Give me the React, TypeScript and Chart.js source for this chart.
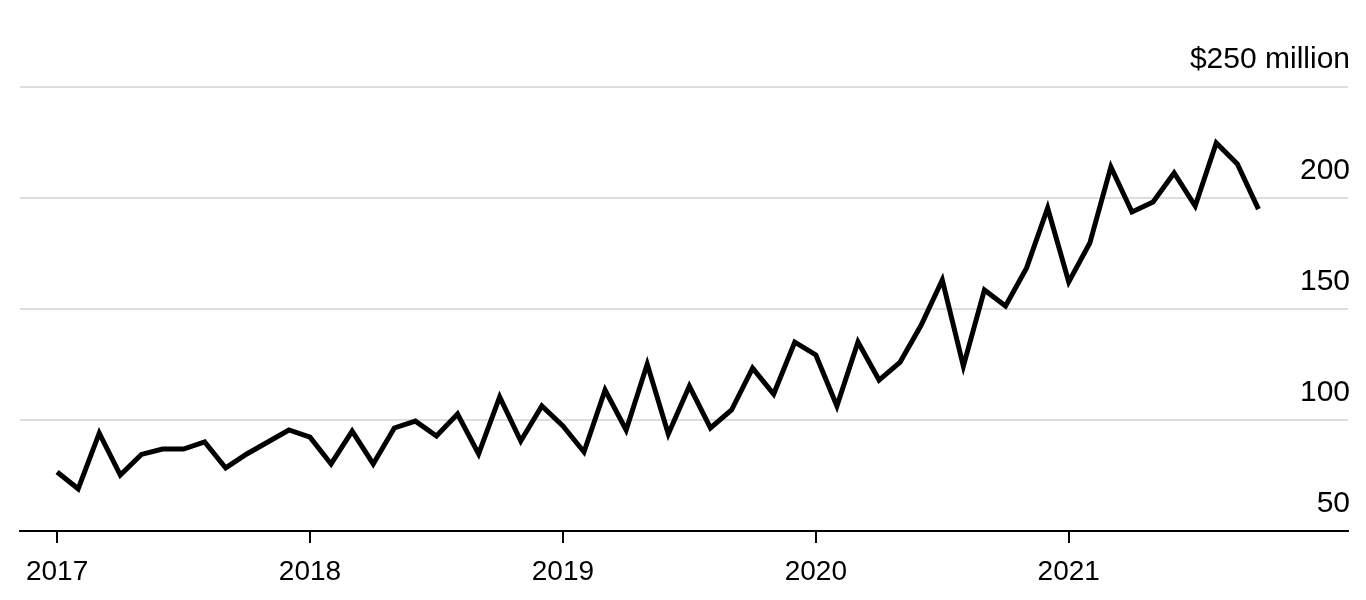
import React, { useEffect, useRef } from "react";
import { Chart, registerables } from "chart.js";

Chart.register(...registerables);

// Monthly values, Jan 2017 – Oct 2021 ($ million)
const values: number[] = [
  76.6, 69.0, 94.1, 75.2, 84.5, 86.9, 86.9, 90.1, 78.4, 84.7, 90.1, 95.5,
  92.3, 80.2, 95.0, 80.2, 96.4, 99.5, 92.8, 102.7, 84.7, 110.4, 90.5, 106.3,
  97.3, 85.6, 113.5, 95.5, 125.2, 93.7, 115.3, 96.4, 104.5, 123.4, 111.7, 135.1,
  129.3, 106.3, 135.1, 118.0, 126.1, 142.8, 163.1, 124.3, 158.6, 151.4, 168.5, 195.5,
  162.2, 179.7, 214.0, 193.7, 198.2, 211.3, 196.4, 224.8, 215.3, 195.0,
];

const yearTickIndex: number[] = [0, 12, 24, 36, 48];
const yearLabels: string[] = ["2017", "2018", "2019", "2020", "2021"];
const yTicks: number[] = [50, 100, 150, 200, 250];
const yTopLabel = "$250 million";

const FONT = "'Liberation Sans', Arial, Helvetica, sans-serif";

export default function App() {
  const canvasRef = useRef<HTMLCanvasElement | null>(null);

  useEffect(() => {
    const canvas = canvasRef.current;
    if (!canvas) return;
    const chart = new Chart(canvas, {
      type: "line",
      data: {
        datasets: [
          {
            data: values.map((v, i) => ({ x: i, y: v })),
            borderColor: "#000",
            borderWidth: 5,
            pointRadius: 0,
            tension: 0,
            fill: false,
          },
        ],
      },
      options: {
        animation: false,
        responsive: true,
        maintainAspectRatio: false,
        layout: { padding: { left: 12, right: 10, top: 79, bottom: 0 } },
        plugins: { legend: { display: false }, tooltip: { enabled: false } },
        scales: {
          x: {
            type: "linear",
            min: -1.76,
            max: 61.25,
            afterBuildTicks: (scale: any) => {
              scale.ticks = yearTickIndex.map((v) => ({ value: v }));
            },
            afterFit: (scale: any) => {
              scale.height = 61;
            },
            ticks: {
              autoSkip: false,
              maxRotation: 0,
              padding: 12,
              color: "#000",
              font: { family: FONT, size: 28 },
              callback: (v: any) => {
                const idx = yearTickIndex.indexOf(Number(v));
                return idx >= 0 ? yearLabels[idx] : "";
              },
            },
            grid: {
              drawOnChartArea: false,
              drawTicks: true,
              tickLength: 12,
              color: "#000",
              lineWidth: 2,
            },
            border: { display: true, color: "#000", width: 2 },
          },
          y: {
            type: "linear",
            position: "right",
            min: 50,
            max: 250,
            afterBuildTicks: (scale: any) => {
              scale.ticks = yTicks.map((v) => ({ value: v }));
            },
            afterFit: (scale: any) => {
              scale.width = 0;
            },
            ticks: {
              mirror: true,
              padding: 2,
              labelOffset: -27,
              color: "#000",
              font: { family: FONT, size: 30 },
              callback: (v: any) => (Number(v) === 250 ? yTopLabel : String(v)),
            },
            grid: {
              drawTicks: false,
              color: (ctx: any) => (ctx.tick && ctx.tick.value === 50 ? "#000" : "#dddddd"),
              lineWidth: 2,
            },
            border: { display: false },
          },
        },
      },
    });
    return () => chart.destroy();
  }, []);

  return (
    <div style={{ width: 1350, height: 584, position: "relative" }}>
      <canvas ref={canvasRef} />
    </div>
  );
}
